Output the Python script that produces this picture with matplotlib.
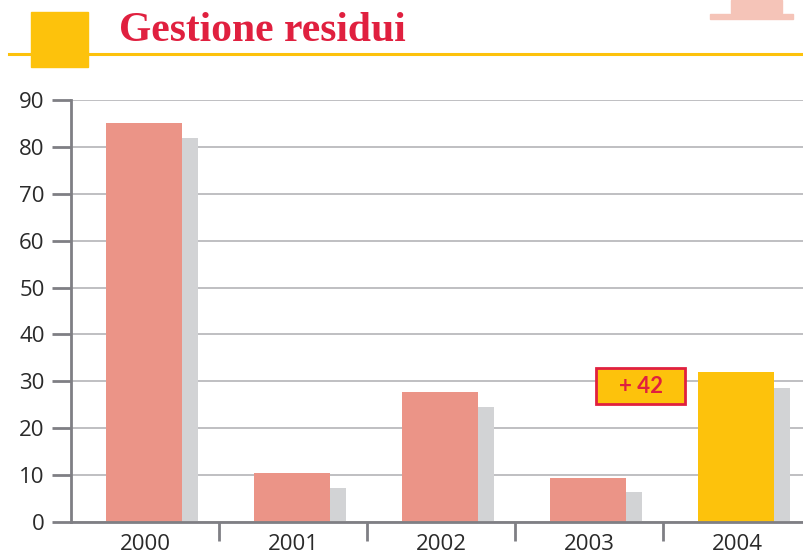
import matplotlib
matplotlib.use("Agg")
from matplotlib import pyplot as plt
from matplotlib.patches import Rectangle
import numpy as np

# data
years = ["2000", "2001", "2002", "2003", "2004"]
values = [85.1, 10.4, 27.8, 9.4, 31.9]
# grey "shadow" bars drawn behind/right of each bar
shadow = [82.0, 7.3, 24.6, 6.3, 28.5]
yticks = [0, 10, 20, 30, 40, 50, 60, 70, 80, 90]
badge = "+ 42"

salmon = "#eb9487"
yellow = "#fdc20c"
grey = "#d2d3d5"
crimson = "#e0203f"
axis_grey = "#7f7f84"

plt.rcParams['font.family'] = ['Open Sans', 'DejaVu Sans']

fig = plt.figure(figsize=(8.04, 5.56), dpi=100)
ax = fig.add_axes([71 / 804, 34 / 556, 733 / 804, 422 / 556])

x = np.arange(len(years))
colors = [salmon] * (len(years) - 1) + [yellow]
ax.bar(x - 0.264, values, width=0.514, align="edge", color=colors, zorder=3)
ax.bar(x + 0.25, shadow, width=0.108, align="edge", color=grey, zorder=2)

ax.set_xlim(-0.5, 733 / 148 - 0.5)
ax.set_ylim(0, 90)
ax.set_yticks(yticks)
ax.set_yticklabels([str(t) for t in yticks], fontsize=16, color="#2a2a2a")
ax.tick_params(axis="y", length=14, width=2, color=axis_grey, pad=5)
ax.set_xticks(x)
ax.set_xticklabels(years, fontsize=16, color="#2a2a2a")
ax.tick_params(axis="x", length=0, pad=9)
# separators between years below the axis
ax.set_xticks(x[:-1] + 0.5, minor=True)
ax.tick_params(axis="x", which="minor", length=14, width=2, color=axis_grey)

ax.yaxis.grid(True, color="#b4b4b8", linewidth=1.2, zorder=1)
ax.set_axisbelow(True)
for s in ["top", "right"]:
    ax.spines[s].set_visible(False)
for s in ["left", "bottom"]:
    ax.spines[s].set_color(axis_grey)
    ax.spines[s].set_linewidth(2)
    ax.spines[s].set_zorder(4)

# "+ 42" badge above the 2003/2004 gap
ax.add_patch(Rectangle((3.047, 25.2), 0.602, 7.65, facecolor=yellow, edgecolor=crimson,
                       linewidth=2, zorder=5))
ax.text(3.348, 29.0, badge, ha="center", va="center", fontsize=16, fontweight="bold",
        color=crimson, family=["Lato", "DejaVu Sans"], zorder=6)

# header decoration
fig.add_artist(Rectangle((31 / 804, 1 - 67 / 556), 57 / 804, 55 / 556, color=yellow,
                         transform=fig.transFigure, zorder=2))
fig.add_artist(plt.Line2D([9 / 804, 1], [1 - 54.5 / 556] * 2, color=yellow, linewidth=2.2,
                          transform=fig.transFigure, zorder=1))
fig.add_artist(Rectangle((731 / 804, 1 - 13 / 556), 51 / 804, 13 / 556, color="#f5c4b8",
                         transform=fig.transFigure))
fig.add_artist(Rectangle((710 / 804, 1 - 18.5 / 556), 83 / 804, 4.5 / 556, color="#f5c4b8",
                         transform=fig.transFigure))
fig.text(119 / 804, 1 - 31 / 556, "Gestione residui", fontsize=30, fontweight="bold",
         color=crimson, family="Liberation Serif", va="center", ha="left")

fig.savefig("out.png", dpi=100)
